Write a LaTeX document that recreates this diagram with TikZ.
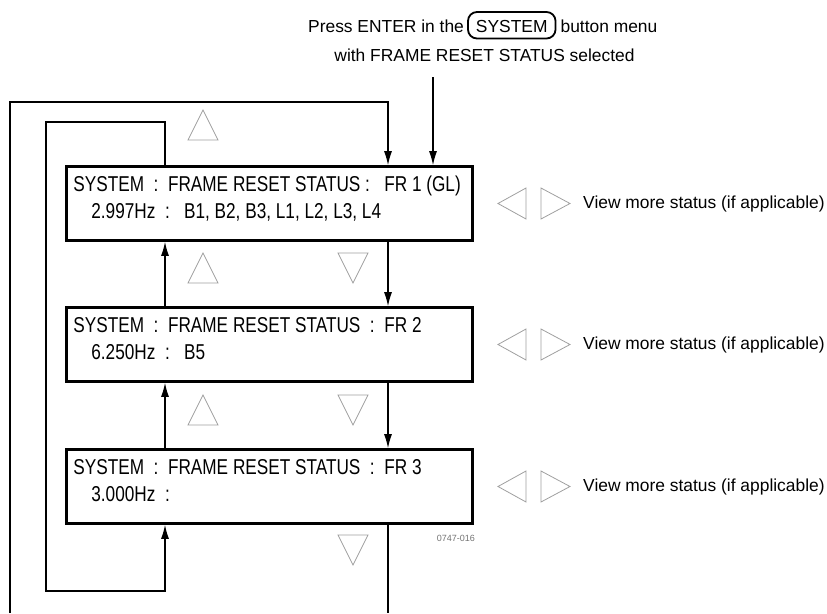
\documentclass[tikz,border=0pt]{standalone}
\usepackage{fontspec}
\setmainfont{Liberation Sans}
\newfontfamily\narrowsf{Liberation Sans}[FakeStretch=0.80]
\usetikzlibrary{arrows.meta,positioning}

\begin{document}
\begin{tikzpicture}[
					x=1pt,y=-1pt,
					frbox/.style={draw,line width=2.6pt,minimum width=406pt,minimum height=74pt,inner sep=0pt},
					frtxt/.style={anchor=base west,inner sep=0pt,font=\narrowsf\fontsize{21.5}{24}\selectfont},
					plain/.style={inner sep=0pt,font=\fontsize{17.4}{20}\selectfont},
					btn/.style={draw,line width=1.8pt,rounded corners=9pt,inner xsep=8pt,inner ysep=6pt,text height=14pt,text depth=0.5pt,font=\fontsize{17.4}{20}\selectfont},
					conn/.style={draw,line width=1.2pt},
					arr/.style={-{Latex[length=14pt,width=8pt]}},
					tri/.style={draw=gray!75,line width=0.8pt,line join=miter}
					]
					\useasboundingbox (0,0) rectangle (827,613);
					% caption on top
					\node[plain,anchor=base west] (press) at (308,32) {Press ENTER in the};
					\node[btn,base right=3pt of press] (sysbtn) {SYSTEM};
					\node[plain,base right=4pt of sysbtn] (menu) {button menu};
					\node[plain,anchor=base] (with) at (484.5,61) {with FRAME RESET STATUS selected};
					% status boxes
					\foreach \n/\y/\la/\lb in {
						1/203.5/{SYSTEM\ \ :\ \ FRAME RESET STATUS :\ \ \ FR 1 (GL)}/{2.997Hz\ \ :\ \ \ B1, B2, B3, L1, L2, L3, L4},
						2/344.5/{SYSTEM\ \ :\ \ FRAME RESET STATUS\ \ :\ \ FR 2}/{6.250Hz\ \ :\ \ \ B5},
						3/486.5/{SYSTEM\ \ :\ \ FRAME RESET STATUS\ \ :\ \ FR 3}/{3.000Hz\ \ :}}{
						\node[frbox] (fr\n) at (269.5,\y) {};
						\node[frtxt] (fr\n a) at (fr\n.north west) [xshift=8pt,yshift=-26.4pt] {\la};
						\node[frtxt] (fr\n b) at (fr\n.north west) [xshift=26pt,yshift=-53.4pt] {\lb};
						\draw[tri] (498,\y) -- (526,\y-15.5) -- (526,\y+15.5) -- cycle;
						\draw[tri] (541,\y-15.5) -- (570,\y) -- (541,\y+15.5) -- cycle;
						\node[plain,anchor=west] (more\n) at (583,\y) {View more status (if applicable)};
					}
					\node[anchor=base east,inner sep=0pt,text=gray!90!black,font=\fontsize{9}{10}\selectfont] (code) at (475,541) {0747-016};
					% up and down keys
					\foreach \y in {125,268,410}{
						\draw[tri] (188,\y+15) -- (203,\y-15) -- (218,\y+15) -- cycle;
					}
					\foreach \y in {268,410,550}{
						\draw[tri] (338,\y-15) -- (353,\y+15) -- (368,\y-15) -- cycle;
					}
					% connectors
					\coordinate (upx) at (165,0);
					\coordinate (dnx) at (388,0);
					\coordinate (entry) at (433,77);
					\coordinate (intl) at (46,122);
					\coordinate (inbl) at (46,591);
					\coordinate (outtl) at (10,102);
					\coordinate (outbl) at (10,613);
					\coordinate (outbr) at (388,613);
					\foreach \a/\b in {1/2,2/3}{
						\draw[conn,arr] (fr\b.north -| upx) -- (fr\a.south -| upx);
						\draw[conn,arr] (fr\a.south -| dnx) -- (fr\b.north -| dnx);
					}
					\draw[conn,arr] (entry) -- (fr1.north -| entry);
					\draw[conn,arr] (fr1.north -| upx) |- (intl) -- (inbl) -| (fr3.south -| upx);
					\draw[conn,arr] (outbl) -- (outtl) -| (fr1.north -| dnx);
					\draw[conn] (fr3.south -| dnx) -- (outbr);
				\end{tikzpicture}
\end{document}
